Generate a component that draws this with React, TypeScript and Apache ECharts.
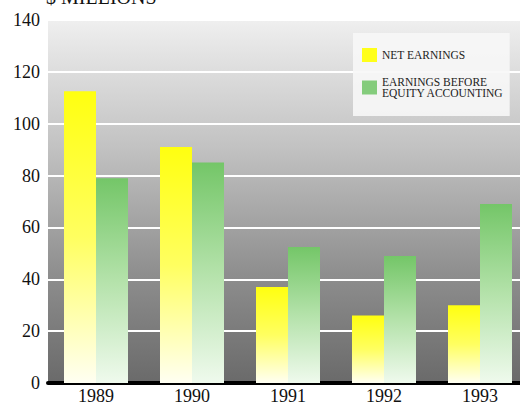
import React, { useEffect, useRef } from "react";
import * as echarts from "echarts";

const years = ["1989", "1990", "1991", "1992", "1993"];
const netEarnings = [112.5, 91, 37, 26, 30];
const earningsBeforeEquity = [79, 85, 52.5, 49, 69];
const yTicks = { min: 0, max: 140, interval: 20 };
const serif = "'Liberation Serif', 'DejaVu Serif', serif";

export default function App() {
  const ref = useRef<HTMLDivElement>(null);
  useEffect(() => {
    if (!ref.current) return;
    const chart = echarts.init(ref.current, null, { renderer: "svg" });
    const yellow = new echarts.graphic.LinearGradient(0, 0, 0, 1, [
      { offset: 0, color: "#ffff10" },
      { offset: 0.5, color: "#ffff60" },
      { offset: 1, color: "#fffff2" },
    ]);
    const green = new echarts.graphic.LinearGradient(0, 0, 0, 1, [
      { offset: 0, color: "#74c668" },
      { offset: 0.5, color: "#b4e2aa" },
      { offset: 1, color: "#effaed" },
    ]);
    chart.setOption({
      animation: false,
      backgroundColor: "#ffffff",
      textStyle: { fontFamily: serif },
      grid: {
        left: 48,
        top: 20,
        width: 480,
        height: 363,
        show: true,
        borderWidth: 0,
        outerBoundsMode: "none",
        containLabel: false,
        backgroundColor: new echarts.graphic.LinearGradient(0, 0, 0, 1, [
          { offset: 0, color: "#efefef" },
          { offset: 0.35, color: "#c2c2c2" },
          { offset: 0.7, color: "#8e8e8e" },
          { offset: 1, color: "#6a6a6a" },
        ]),
      },
      graphic: [
        {
          type: "text",
          left: 46,
          top: -13,
          style: {
            text: "$ MILLIONS",
            fontFamily: serif,
            fontSize: 20,
            fill: "#111",
          },
        },
      ],
      legend: {
        orient: "vertical",
        left: 353,
        top: 33,
        padding: [15, 6, 17, 9],
        backgroundColor: "rgba(247,247,247,0.9)",
        itemWidth: 15,
        itemHeight: 14,
        itemGap: 14,
        icon: "rect",
        textStyle: { fontFamily: serif, fontSize: 11.5, color: "#222", lineHeight: 11 },
        data: [
          { name: "NET EARNINGS", itemStyle: { color: "#ffff1a" } },
          { name: "EARNINGS BEFORE\nEQUITY ACCOUNTING", itemStyle: { color: "#84cc7c" } },
        ],
      },
      xAxis: {
        type: "category",
        data: years,
        axisLine: { lineStyle: { color: "#000", width: 4 } },
        axisTick: { show: false },
        axisLabel: { fontFamily: serif, fontSize: 18, lineHeight: 18, color: "#111", margin: 4 },
      },
      yAxis: {
        type: "value",
        min: yTicks.min,
        max: yTicks.max,
        interval: yTicks.interval,
        axisLine: { show: false },
        axisTick: { show: false },
        axisLabel: { fontFamily: serif, fontSize: 18, color: "#111", margin: 8 },
        splitLine: { lineStyle: { color: "#ffffff", width: 2 } },
      },
      series: [
        {
          name: "NET EARNINGS",
          type: "bar",
          data: netEarnings,
          barWidth: 32,
          barGap: "0%",
          itemStyle: { color: yellow },
        },
        {
          name: "EARNINGS BEFORE\nEQUITY ACCOUNTING",
          type: "bar",
          data: earningsBeforeEquity,
          barWidth: 32,
          barGap: "0%",
          itemStyle: { color: green },
        },
      ],
    });
    return () => chart.dispose();
  }, []);
  return <div ref={ref} style={{ width: 520, height: 407, position: "absolute", left: 0, top: 0 }} />;
}
